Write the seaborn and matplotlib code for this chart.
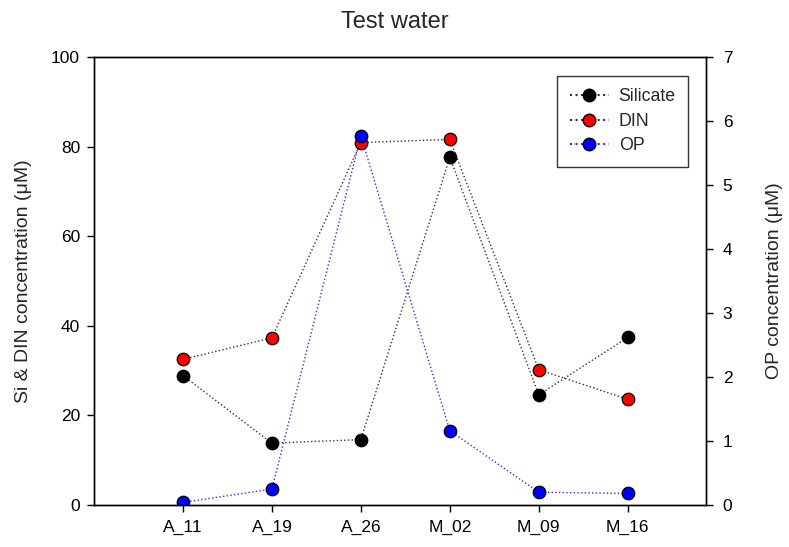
import matplotlib
matplotlib.use("Agg")
import matplotlib.pyplot as plt
import seaborn as sns
import pandas as pd
from matplotlib.lines import Line2D

dates = ["A_11", "A_19", "A_26", "M_02", "M_09", "M_16"]
silicate = [28.9, 13.8, 14.6, 77.6, 24.6, 37.4]
din = [32.5, 37.3, 80.9, 81.6, 30.2, 23.6]
op = [0.04, 0.25, 5.77, 1.16, 0.20, 0.18]

sns.set_style("white")
plt.rcParams['font.family'] = ['Liberation Sans', 'DejaVu Sans']

fig = plt.figure(figsize=(7.89, 5.47), dpi=100)
ax = fig.add_axes([94/789, 42/547, (706-94)/789, (505-57)/547])
ax2 = ax.twinx()

pos = list(range(len(dates)))
df = pd.DataFrame({"pos": pos, "Silicate": silicate, "DIN": din, "OP": op})

mk = dict(marker="o", markersize=9, markeredgecolor="black", markeredgewidth=0.9)
sns.lineplot(data=df, x="pos", y="Silicate", ax=ax, color="#333333", linestyle=":",
             linewidth=1.0, markerfacecolor="black", sort=False, **mk)
sns.lineplot(data=df, x="pos", y="DIN", ax=ax, color="#333333", linestyle=":",
             linewidth=1.0, markerfacecolor="red", sort=False, **mk)
sns.lineplot(data=df, x="pos", y="OP", ax=ax2, color="#5020d0", linestyle=":",
             linewidth=1.0, markerfacecolor="blue", sort=False, **mk)

ax.set_xlim(-1, 5.88)
ax.set_ylim(0, 100)
ax2.set_ylim(0, 7)
ax.set_xticks(pos)
ax.set_xticklabels(dates)
ax.set_yticks(range(0, 101, 20))
ax2.set_yticks(range(0, 8))

for a in (ax, ax2):
    for s in a.spines.values():
        s.set_color("black")
        s.set_linewidth(1.0)
    a.tick_params(direction="out", length=5, width=1, colors="black", labelsize=12.5)
ax.tick_params(axis="x", bottom=True, pad=6)
ax.tick_params(axis="y", left=True, pad=5)
ax2.tick_params(axis="y", right=True, pad=7)

ax.set_xlabel("")
ax.set_ylabel("Si & DIN concentration (μM)", fontsize=14, labelpad=14)
ax2.set_ylabel("OP concentration (μM)", fontsize=14, labelpad=24)
fig.suptitle("Test water", fontsize=17, x=0.5, y=0.98)

handles = [
    Line2D([], [], color="#333333", linestyle=":", marker="o", markerfacecolor="black",
           markeredgecolor="black", markersize=9),
    Line2D([], [], color="#333333", linestyle=":", marker="o", markerfacecolor="red",
           markeredgecolor="black", markersize=9),
    Line2D([], [], color="#5020d0", linestyle=":", marker="o", markerfacecolor="blue",
           markeredgecolor="black", markersize=9),
]
leg = ax2.legend(handles, ["Silicate", "DIN", "OP"], loc="upper right",
                 bbox_to_anchor=(0.971, 0.958), borderaxespad=0, frameon=True,
                 fancybox=False, edgecolor="black", fontsize=12.8, handlelength=2.2,
                 handletextpad=0.55, borderpad=0.7, labelspacing=0.42)
leg.get_frame().set_linewidth(1.0)

fig.savefig("out.png", dpi=100)
